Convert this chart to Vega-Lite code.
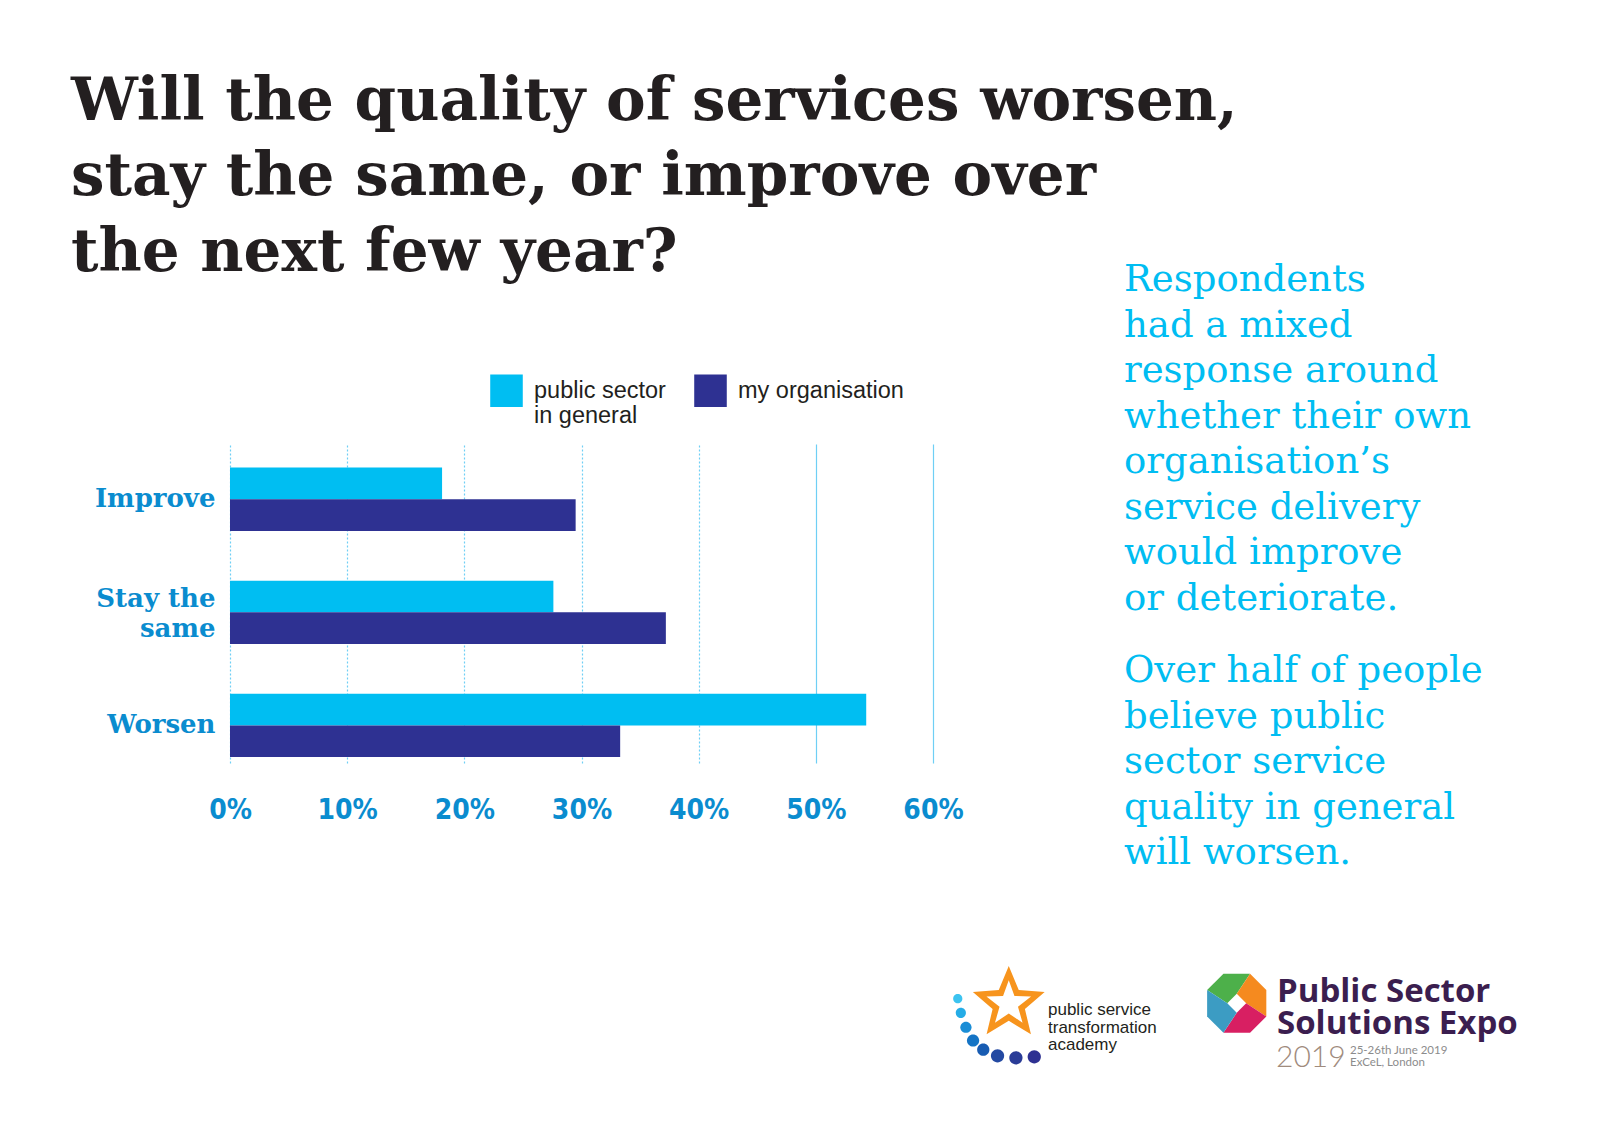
{
  "$schema": "https://vega.github.io/schema/vega-lite/v6.json",
  "background": "white",
  "autosize": {"type": "none"},
  "padding": {"left": 230, "top": 444, "right": 667, "bottom": 366},
  "width": 703,
  "height": 319,
  "config": {
    "view": {"stroke": "transparent"}
  },
  "title": {
    "text": ["Will the quality of services worsen,", "stay the same, or improve over", "the next few year?"],
    "anchor": "start",
    "frame": "group",
    "dx": -159,
    "offset": -22,
    "font": "DejaVu Serif",
    "fontWeight": "bold",
    "fontSize": 59.5,
    "lineHeight": 75.5,
    "color": "#231F20"
  },
  "datasets": {
    "survey": [
      {"answer": "Improve", "group": "public sector in general", "share": 18.1},
      {"answer": "Improve", "group": "my organisation", "share": 29.5},
      {"answer": "Stay the same", "group": "public sector in general", "share": 27.6},
      {"answer": "Stay the same", "group": "my organisation", "share": 37.2},
      {"answer": "Worsen", "group": "public sector in general", "share": 54.3},
      {"answer": "Worsen", "group": "my organisation", "share": 33.3}
    ]
  },
  "resolve": {"scale": {"color": "independent", "shape": "independent"}},
  "layer": [
    {
      "data": {"name": "survey"},
      "mark": {"type": "bar"},
      "encoding": {
        "y": {
          "field": "answer",
          "type": "nominal",
          "sort": ["Improve", "Stay the same", "Worsen"],
          "scale": {"paddingInner": 0.44, "paddingOuter": 0.13, "align": 0.8},
          "axis": {
            "title": null,
            "domain": false,
            "ticks": false,
            "labelFont": "DejaVu Serif",
            "labelFontWeight": "bold",
            "labelFontSize": 26,
            "labelColor": "#0A8CCF",
            "labelPadding": 15,
            "labelLineHeight": 30,
            "labelLimit": 300,
            "labelOffset": {"condition": {"test": "datum.value == 'Stay the same'", "value": -13}, "value": 0},
            "labelExpr": "datum.value == 'Stay the same' ? ['Stay the', 'same'] : datum.value"
          }
        },
        "yOffset": {
          "field": "group",
          "sort": ["public sector in general", "my organisation"],
          "scale": {"paddingInner": 0, "paddingOuter": 0}
        },
        "x": {
          "field": "share",
          "type": "quantitative",
          "scale": {"domain": [0, 60], "nice": false},
          "axis": {
            "title": null,
            "values": [0, 10, 20, 30, 40, 50, 60],
            "labelExpr": "datum.value + '%'",
            "domain": false,
            "ticks": false,
            "labelFont": "Liberation Sans Narrow, DejaVu Sans Condensed, sans-serif",
            "labelFontWeight": "bold",
            "labelFontSize": 28,
            "labelColor": "#0A8CCF",
            "labelPadding": 33,
            "labelFlush": false,
            "grid": true,
            "gridColor": "#6FCFF5",
            "gridWidth": 1.2,
            "gridDash": {"condition": {"test": "datum.value >= 50", "value": []}, "value": [2, 2]}
          }
        },
        "color": {
          "field": "group",
          "type": "nominal",
          "scale": {
            "domain": ["public sector in general", "my organisation"],
            "range": ["#00BEF2", "#2E3192"]
          },
          "legend": {
            "title": null,
            "orient": "none",
            "legendX": 260,
            "legendY": -70,
            "direction": "horizontal",
            "symbolType": "square",
            "symbolSize": 1060,
            "symbolStrokeWidth": 0,
            "symbolOpacity": 1,
            "labelFont": "Liberation Sans",
            "labelFontSize": 23.5,
            "labelColor": "#231F20",
            "labelOffset": 11,
            "labelLineHeight": 26,
            "labelLimit": 400,
            "columnPadding": 28,
            "labelExpr": "datum.label == 'public sector in general' ? ['public sector', 'in general'] : [datum.label, '']"
          }
        }
      }
    },
    {
      "data": {"values": [{"note": ["Respondents", "had a mixed", "response around", "whether their own", "organisation’s", "service delivery", "would improve", "or deteriorate."]}]},
      "mark": {"type": "text", "x": 894, "y": -153, "align": "left", "baseline": "alphabetic", "font": "DejaVu Serif", "fontSize": 37, "lineHeight": 45.5, "color": "#00BDF2"},
      "encoding": {"text": {"field": "note", "type": "nominal"}}
    },
    {
      "data": {"values": [{"note": ["Over half of people", "believe public", "sector service", "quality in general", "will worsen."]}]},
      "mark": {"type": "text", "x": 894, "y": 238, "align": "left", "baseline": "alphabetic", "font": "DejaVu Serif", "fontSize": 37, "lineHeight": 45.5, "color": "#00BDF2"},
      "encoding": {"text": {"field": "note", "type": "nominal"}}
    },
    {
      "data": {"values": [{"note": ["public service", "transformation", "academy"]}]},
      "mark": {"type": "text", "x": 818, "y": 571, "align": "left", "baseline": "alphabetic", "font": "Liberation Sans", "fontSize": 17, "lineHeight": 17.5, "color": "#231F20"},
      "encoding": {"text": {"field": "note", "type": "nominal"}}
    },
    {
      "data": {"values": [{"note": ["Public Sector", "Solutions Expo"]}]},
      "mark": {"type": "text", "x": 1047, "y": 558, "align": "left", "baseline": "alphabetic", "font": "Open Sans", "fontWeight": 700, "fontSize": 33, "lineHeight": 32, "color": "#3B1E4F"},
      "encoding": {"text": {"field": "note", "type": "nominal"}}
    },
    {
      "data": {"values": [{"note": "2019"}]},
      "mark": {"type": "text", "x": 1046, "y": 623, "align": "left", "baseline": "alphabetic", "font": "Lato", "fontWeight": 300, "fontSize": 30, "color": "#A08B7D"},
      "encoding": {"text": {"field": "note", "type": "nominal"}}
    },
    {
      "data": {"values": [{"note": ["25-26th June 2019", "ExCeL, London"]}]},
      "mark": {"type": "text", "x": 1120, "y": 610, "align": "left", "baseline": "alphabetic", "font": "Lato", "fontSize": 11.5, "lineHeight": 11.5, "color": "#8C8C8C"},
      "encoding": {"text": {"field": "note", "type": "nominal"}}
    },
    {
      "data": {"values": [
        {"piece": "dot1"}, {"piece": "dot2"}, {"piece": "dot3"}, {"piece": "dot4"},
        {"piece": "dot5"}, {"piece": "dot6"}, {"piece": "dot7"}, {"piece": "dot8"},
        {"piece": "star"}, {"piece": "green"}, {"piece": "orange"}, {"piece": "magenta"}, {"piece": "blue"}
      ]},
      "mark": {"type": "point", "x": 893, "y": 571, "size": 166464, "filled": true, "opacity": 1, "strokeWidth": 0},
      "encoding": {
        "shape": {
          "field": "piece",
          "type": "nominal",
          "legend": null,
          "scale": {
            "domain": ["dot1", "dot2", "dot3", "dot4", "dot5", "dot6", "dot7", "dot8", "star", "green", "orange", "magenta", "blue"],
            "range": [
              "M-0.8325,-0.08A0.0225,0.0225,0,1,0,-0.7875,-0.08A0.0225,0.0225,0,1,0,-0.8325,-0.08Z",
              "M-0.82,-0.01A0.025,0.025,0,1,0,-0.77,-0.01A0.025,0.025,0,1,0,-0.82,-0.01Z",
              "M-0.7975,0.06A0.0275,0.0275,0,1,0,-0.7425,0.06A0.0275,0.0275,0,1,0,-0.7975,0.06Z",
              "M-0.765,0.125A0.03,0.03,0,1,0,-0.705,0.125A0.03,0.03,0,1,0,-0.765,0.125Z",
              "M-0.715,0.17A0.03,0.03,0,1,0,-0.655,0.17A0.03,0.03,0,1,0,-0.715,0.17Z",
              "M-0.6475,0.2A0.0325,0.0325,0,1,0,-0.5825,0.2A0.0325,0.0325,0,1,0,-0.6475,0.2Z",
              "M-0.5575,0.21A0.0325,0.0325,0,1,0,-0.4925,0.21A0.0325,0.0325,0,1,0,-0.5575,0.21Z",
              "M-0.4675,0.205A0.0325,0.0325,0,1,0,-0.4025,0.205A0.0325,0.0325,0,1,0,-0.4675,0.205Z",
              "M-0.56,-0.24L-0.511,-0.1224L-0.384,-0.1122L-0.4808,-0.0293L-0.4513,0.0947L-0.56,0.0283L-0.6687,0.0947L-0.6392,-0.0293L-0.736,-0.1122L-0.609,-0.1224ZM-0.56,-0.17L-0.5879,-0.0934L-0.6694,-0.0905L-0.6052,-0.0403L-0.6276,0.038L-0.56,-0.0075L-0.4924,0.038L-0.5148,-0.0403L-0.4506,-0.0905L-0.5321,-0.0934Z",
              "M0.5111,-0.0575L0.4125,-0.1228L0.4923,-0.2025L0.6228,-0.2025L0.5575,-0.1039Z",
              "M0.5575,-0.1039L0.6228,-0.2025L0.7025,-0.1228L0.7025,0.0078L0.6039,-0.0575Z",
              "M0.6039,-0.0575L0.7025,0.0078L0.6228,0.0875L0.4923,0.0875L0.5575,-0.0111Z",
              "M0.5575,-0.0111L0.4923,0.0875L0.4125,0.0078L0.4125,-0.1228L0.5111,-0.0575Z"
            ]
          }
        },
        "color": {
          "field": "piece",
          "type": "nominal",
          "legend": null,
          "scale": {
            "domain": ["dot1", "dot2", "dot3", "dot4", "dot5", "dot6", "dot7", "dot8", "star", "green", "orange", "magenta", "blue"],
            "range": ["#3CC3F0", "#25ACE6", "#1A8DD6", "#1474C5", "#185CB2", "#2349A2", "#2A3C97", "#2E3192", "#F7941D", "#4DB04A", "#F58A1F", "#D81F62", "#3C9CC3"]
          }
        }
      }
    }
  ]
}
